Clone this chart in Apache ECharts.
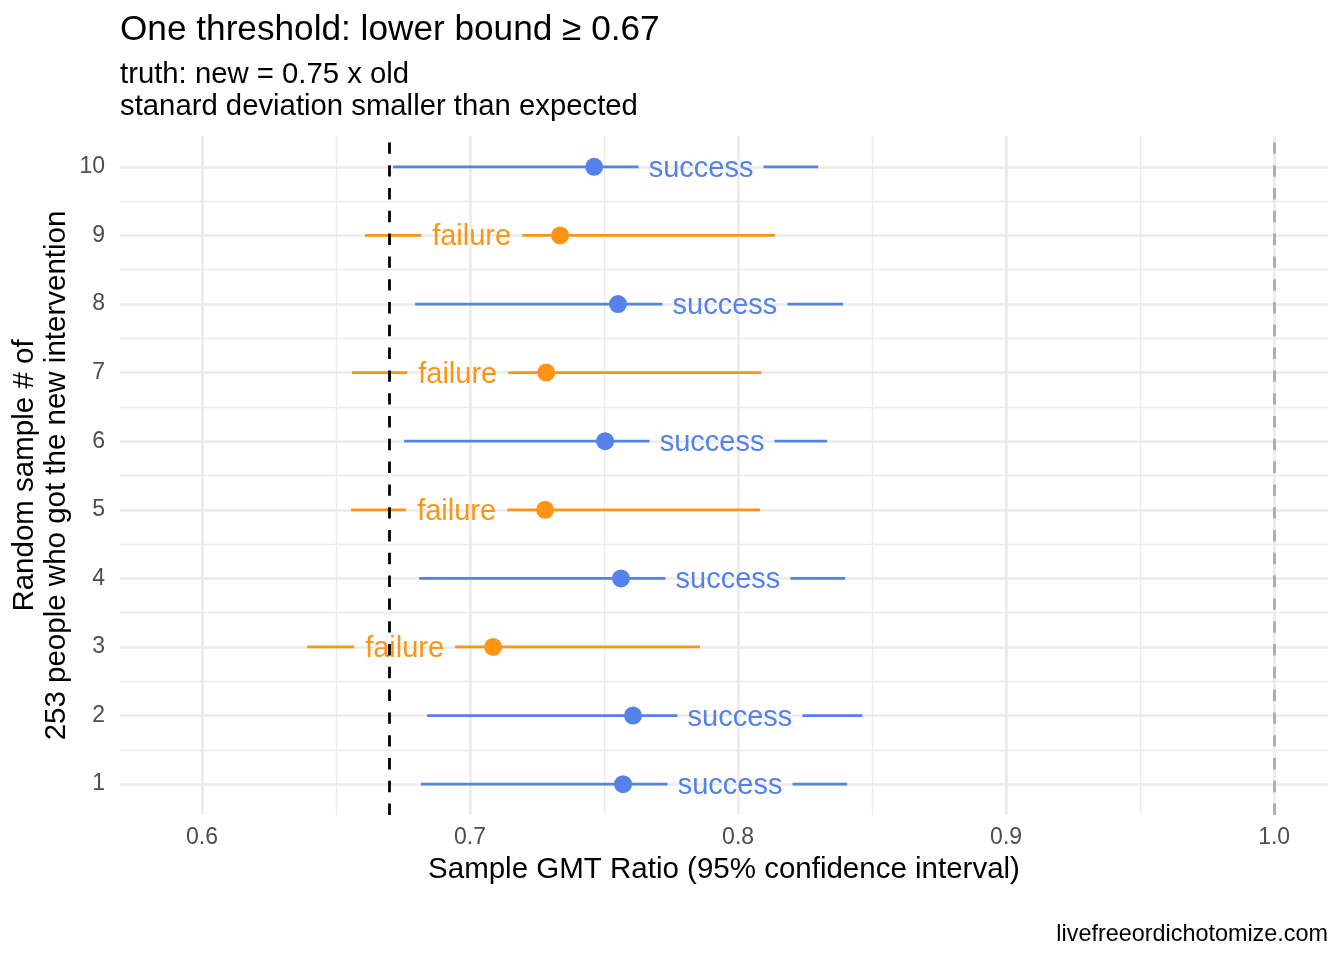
<!DOCTYPE html>
<html>
<head>
<meta charset="utf-8">
<script src="https://cdn.jsdelivr.net/npm/echarts@6/dist/echarts.min.js"></script>
<style>
html,body{margin:0;padding:0;background:#fff;}
#chart{width:1344px;height:960px;}
</style>
</head>
<body>
<div id="chart"></div>
<script>
// ---- data ----
const rows      = [1, 2, 3, 4, 5, 6, 7, 8, 9, 10];
const lowerCI   = [0.6817, 0.6840, 0.6392, 0.6810, 0.6556, 0.6754, 0.6560, 0.6795, 0.6608, 0.6713];
const estimate  = [0.7571, 0.7608, 0.7086, 0.7563, 0.7280, 0.7504, 0.7284, 0.7552, 0.7336, 0.7463];
const upperCI   = [0.8407, 0.8463, 0.7858, 0.8399, 0.8082, 0.8332, 0.8086, 0.8392, 0.8138, 0.8299];
const outcome   = ['success','success','failure','success','failure','success','failure','success','failure','success'];
const threshold = 0.67;
const nullValue = 1.0;
const xTickValues = [0.6, 0.7, 0.8, 0.9, 1.0];
const xTickLabels = ['0.6', '0.7', '0.8', '0.9', '1.0'];
const xMinorValues = [0.65, 0.75, 0.85, 0.95];
const yTickValues = [1, 2, 3, 4, 5, 6, 7, 8, 9, 10];
const yMinorValues = [1.5, 2.5, 3.5, 4.5, 5.5, 6.5, 7.5, 8.5, 9.5];

// ---- styles ----
const FONT = '"Liberation Sans", Arial, Helvetica, sans-serif';
const colors = { success: '#5482E8', failure: '#FF9414' };
const labelOffset = { success: 0.0399, failure: -0.0330 };   // label centre relative to estimate (data units)
const gapHalf = { success: 62.5, failure: 50.5 };              // half width of the gap in the range line (px)
const GRID = '#EBEBEB';

const rangeData = rows.map((r, i) => [r, lowerCI[i], upperCI[i], estimate[i] + labelOffset[outcome[i]], outcome[i] === 'success' ? 0 : 1]);
const pointData = rows.map((r, i) => ({ value: [estimate[i], r], itemStyle: { color: colors[outcome[i]], opacity: 1 } }));

const gridLines = [];
xTickValues.forEach(v => gridLines.push({ xAxis: v, lineStyle: { color: GRID, width: 2.6, type: 'solid' } }));
xMinorValues.forEach(v => gridLines.push({ xAxis: v, lineStyle: { color: GRID, width: 1.3, type: 'solid' } }));
yTickValues.forEach(v => gridLines.push({ yAxis: v, lineStyle: { color: GRID, width: 2.6, type: 'solid' } }));
yMinorValues.forEach(v => gridLines.push({ yAxis: v, lineStyle: { color: GRID, width: 1.3, type: 'solid' } }));

const chart = echarts.init(document.getElementById('chart'), null, { renderer: 'canvas' });
const statusNames = ['success', 'failure'];

chart.setOption({
  animation: false,
  backgroundColor: '#ffffff',
  title: [
    { text: 'One threshold: lower bound \u2265 0.67', left: 120, top: 13, padding: 0,
      textStyle: { fontFamily: FONT, fontSize: 35.2, fontWeight: 'normal', color: '#000' } },
    { text: 'truth: new = 0.75 x old\nstanard deviation smaller than expected', left: 120, top: 59, padding: 0,
      textStyle: { fontFamily: FONT, fontSize: 29.3, fontWeight: 'normal', color: '#000', lineHeight: 32 } },
    { text: 'livefreeordichotomize.com', right: 16, top: 923, padding: 0,
      textStyle: { fontFamily: FONT, fontSize: 23.4, fontWeight: 'normal', color: '#000' } }
  ],
  grid: { left: 120, right: 16, top: 136, bottom: 145, containLabel: false },
  xAxis: {
    type: 'value', min: 0.5694, max: 1.0201,
    name: 'Sample GMT Ratio (95% confidence interval)', nameLocation: 'middle', nameGap: 40,
    nameTextStyle: { fontFamily: FONT, fontSize: 29.5, color: '#000' },
    axisLine: { show: false }, axisTick: { show: false }, splitLine: { show: false },
    axisLabel: { customValues: xTickValues, margin: 11, fontFamily: FONT, fontSize: 23, color: '#4D4D4D',
      formatter: v => { const k = xTickValues.findIndex(t => Math.abs(t - v) < 1e-9); return k >= 0 ? xTickLabels[k] : ''; } }
  },
  yAxis: {
    type: 'value', min: 0.55, max: 10.45,
    name: 'Random sample # of\n253 people who got the new intervention', nameLocation: 'middle', nameGap: 47, nameRotate: 90,
    nameMoveOverlap: false,
    nameTextStyle: { fontFamily: FONT, fontSize: 29.5, color: '#000', lineHeight: 32 },
    axisLine: { show: false }, axisTick: { show: false }, splitLine: { show: false },
    axisLabel: { customValues: yTickValues, margin: 15, fontFamily: FONT, fontSize: 23, color: '#4D4D4D',
      formatter: v => String(Math.round(v)) }
  },
  series: [
    { type: 'line', data: [], silent: true, z: 0,
      markLine: { silent: true, z: 0, symbol: ['none', 'none'], label: { show: false }, animation: false, data: gridLines } },
    { type: 'custom', z: 10, silent: true,
      data: rangeData,
      encode: { x: [1, 2, 3], y: 0 },
      renderItem: function (params, api) {
        const y = api.value(0);
        const st = statusNames[api.value(4)];
        const pLo = api.coord([api.value(1), y]);
        const pHi = api.coord([api.value(2), y]);
        const pL = api.coord([api.value(3), y]);
        const c = colors[st];
        const h = gapHalf[st];
        return { type: 'group', children: [
          { type: 'line', shape: { x1: pLo[0], y1: pLo[1], x2: pL[0] - h, y2: pL[1] }, style: { stroke: c, lineWidth: 2.8 } },
          { type: 'line', shape: { x1: pL[0] + h, y1: pL[1], x2: pHi[0], y2: pHi[1] }, style: { stroke: c, lineWidth: 2.8 } },
          { type: 'text', x: pL[0], y: pL[1] + 2, style: { text: st, fill: c, fontSize: 29, fontFamily: FONT, align: 'center', verticalAlign: 'middle' } }
        ] };
      }
    },
    { type: 'scatter', z: 11, silent: true, symbol: 'circle', symbolSize: 18, itemStyle: { opacity: 1 }, data: pointData },
    { type: 'line', data: [], silent: true, z: 12,
      markLine: { silent: true, z: 12, symbol: ['none', 'none'], label: { show: false }, animation: false,
        data: [
          { xAxis: threshold, lineStyle: { color: '#000000', width: 2.8, type: [11.4, 11.4] } },
          { xAxis: nullValue, lineStyle: { color: '#ABABAB', width: 2.8, type: [11.4, 11.4] } }
        ] } }
  ]
});
</script>
</body>
</html>
